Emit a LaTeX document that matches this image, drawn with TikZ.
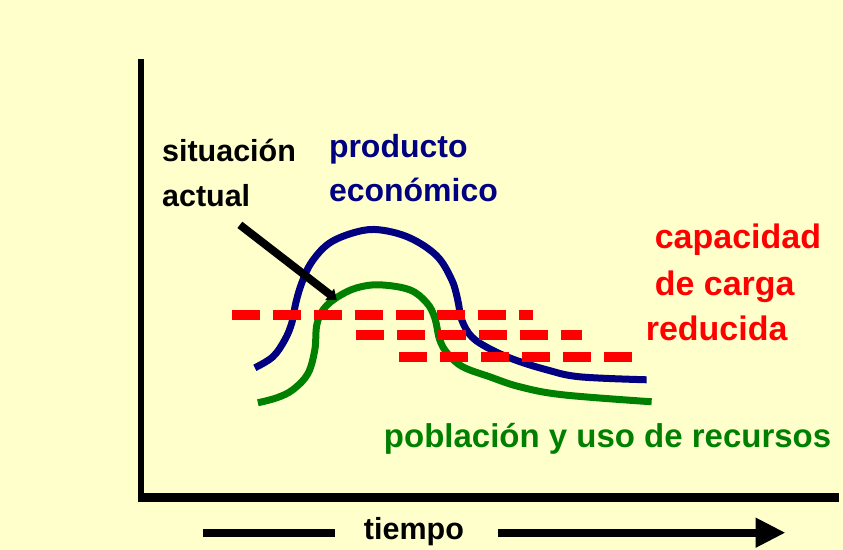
\documentclass[tikz,border=0pt]{standalone}
\usepackage{fontspec}
\setmainfont{Liberation Sans}
\usetikzlibrary{arrows.meta}
\definecolor{fondo}{HTML}{FFFFCC}
\definecolor{azul}{HTML}{000080}
\definecolor{verde}{HTML}{008000}
\definecolor{rojo}{HTML}{FF0000}
\tikzset{%
  >={Triangle[length=30pt,width=28pt]},
  base/.style = {inner sep=0pt, anchor=base west,
      font=\fontsize{32}{38}\selectfont\bfseries},
  textBlack/.style = {base, text=black,
      font=\fontsize{30.5}{38}\selectfont\bfseries},
  textBlue/.style = {base, text=azul},
  textRed/.style = {base, text=rojo,
      font=\fontsize{34}{40}\selectfont\bfseries},
  textGreen/.style = {base, text=verde,
      font=\fontsize{33}{40}\selectfont\bfseries},
  curveBlue/.style = {draw=azul, line width=7pt},
  curveGreen/.style = {draw=verde, line width=7pt},
  capacityLine/.style = {draw=rojo, line width=10pt,
      dash pattern=on 28pt off 13pt},
  timeLine/.style = {draw=black, line width=8pt},
}

\begin{document}
\begin{tikzpicture}[x=1pt, y=-1pt]
  % background and axes
  \fill[fondo] (0,0) rectangle (843,550);
  \coordinate (yTop)   at (141,59);
  \coordinate (origin) at (141,498);
  \coordinate (xEnd)   at (839,498);
  \draw[line width=6pt] (yTop) -- ([yshift=-4pt]origin);
  \draw[line width=9pt] ([xshift=-3pt]origin) -- (xEnd);
  % curves
  \draw[curveBlue] plot[smooth, tension=0.6] coordinates {
      (255,368) (273,357) (285,340) (292,323) (296,303) (302,283)
      (312,262) (330,243) (357,232) (380,230) (410,238) (437,256)
      (452,280) (458,300) (462,320) (472,337) (490,349) (515,360)
      (547,370) (580,377) (647,380)};
  \draw[curveGreen] plot[smooth, tension=0.6] coordinates {
      (258,403) (277,398) (293,390) (308,374) (315,350) (317,325)
      (324,309) (338,297) (357,288) (380,285) (410,290) (427,303)
      (435,318) (440,340) (448,354) (463,367) (490,377) (520,387)
      (563,395) (652,402)};
  % capacity lines
  \draw[capacityLine] (232,315) -- (533,315);
  \draw[capacityLine] (356,335) -- (582,335);
  \draw[capacityLine] (399,357) -- (633,357);
  % labels
  \node (situacion) [textBlack] at (162,162) {situación};
  \node (actual)    [textBlack] at (162,207) {actual};
  \node (producto)  [textBlue]  at (329,158) {producto};
  \node (economico) [textBlue]  at (329,202) {económico};
  \node (capacidad) [textRed]   at (655,249) {capacidad};
  \node (deCarga)   [textRed]   at (655,296) {de carga};
  \node (reducida)  [textRed]   at (646,341) {reducida};
  \node (poblacion) [textGreen] at (384,448) {población y uso de recursos};
  \node (tiempo)    [textBlack] at (364,540) {tiempo};
  % arrow to the current situation
  \coordinate (arrowStart) at (240,225);
  \coordinate (arrowEnd)   at (337,300);
  \draw[line width=8pt, -{Triangle[length=9pt,width=14pt]}]
      (arrowStart) -- (arrowEnd);
  % time arrow
  \coordinate (tiempoStart) at (203,533);
  \coordinate (tiempoEnd)   at (786,533);
  \draw[timeLine] (tiempoStart) -- ([xshift=-29pt]tiempo.west |- tiempoStart);
  \draw[timeLine, ->] ([xshift=34pt]tiempo.east |- tiempoEnd) -- (tiempoEnd);
\end{tikzpicture}
\end{document}
